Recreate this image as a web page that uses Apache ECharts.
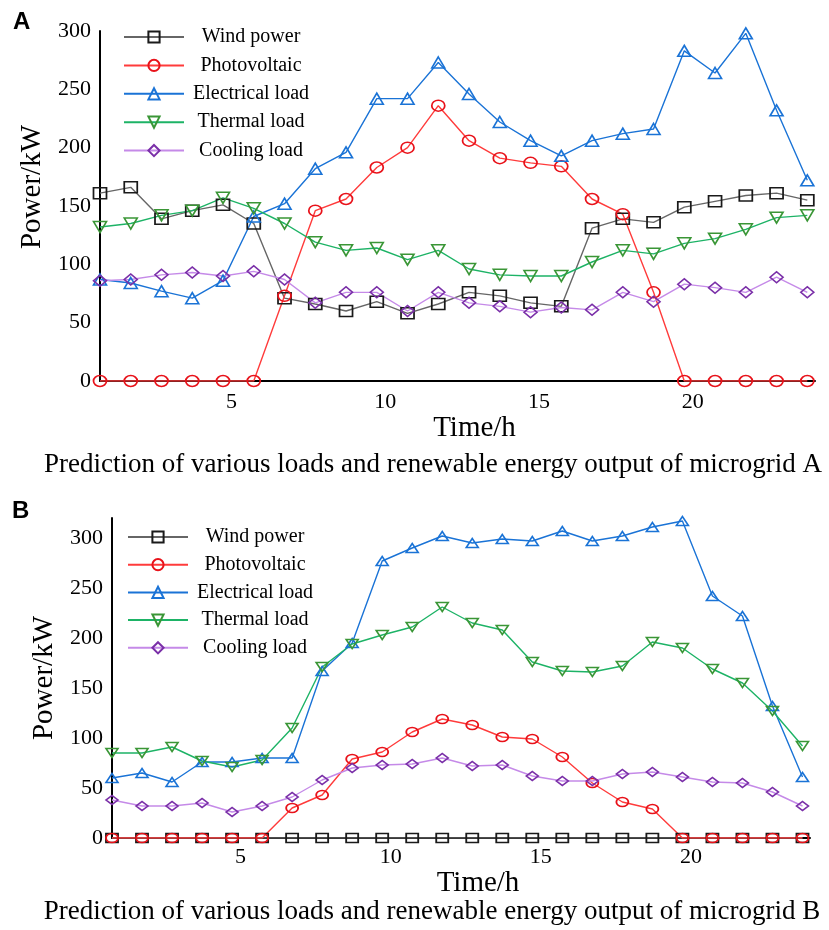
<!DOCTYPE html>
<html>
<head>
<meta charset="utf-8">
<script src="https://cdn.jsdelivr.net/npm/echarts@6/dist/echarts.min.js"></script>
<style>
  html, body { margin: 0; padding: 0; background: #fff; }
  #chart { width: 829px; height: 930px; }
</style>
</head>
<body>
<div id="chart"></div>
<script>
// hours on the x axis
const hours = [1, 2, 3, 4, 5, 6, 7, 8, 9, 10, 11, 12, 13, 14, 15, 16, 17, 18, 19, 20, 21, 22, 23, 24];
const xTickLabels = [5, 10, 15, 20];
const seriesNames = ['Wind power', 'Photovoltaic', 'Electrical load', 'Thermal load', 'Cooling load'];

// microgrid A
const windA = [161, 166, 139, 146, 151, 135, 71, 66, 60, 68, 58, 66, 76, 73, 67, 64, 131, 139, 136, 149, 154, 159, 161, 155];
const pvA = [0, 0, 0, 0, 0, 0, 73, 146, 156, 183, 200, 236, 206, 191, 187, 184, 156, 143, 76, 0, 0, 0, 0, 0];
const elecA = [87, 84, 77, 71, 86, 141, 152, 182, 196, 242, 242, 273, 246, 222, 206, 193, 206, 212, 216, 283, 264, 298, 232, 172];
const thermA = [132, 135, 142, 146, 157, 148, 135, 119, 112, 114, 104, 112, 96, 91, 90, 90, 102, 112, 109, 118, 122, 130, 140, 142];
const coolA = [86, 87, 91, 93, 90, 94, 87, 67, 76, 76, 60, 76, 67, 64, 59, 63, 61, 76, 68, 83, 80, 76, 89, 76];

// microgrid B
const windB = [0, 0, 0, 0, 0, 0, 0, 0, 0, 0, 0, 0, 0, 0, 0, 0, 0, 0, 0, 0, 0, 0, 0, 0];
const pvB = [0, 0, 0, 0, 0, 0, 30, 43, 79, 86, 106, 119, 113, 101, 99, 81, 55, 36, 29, 0, 0, 0, 0, 0];
const elecB = [60, 65, 56, 76, 76, 80, 80, 167, 195, 277, 290, 302, 295, 299, 297, 307, 297, 302, 311, 317, 242, 222, 132, 61];
const thermB = [85, 85, 91, 77, 71, 78, 110, 171, 194, 203, 211, 231, 215, 208, 176, 167, 166, 172, 196, 190, 169, 155, 127, 92];
const coolB = [38, 32, 32, 35, 26, 32, 41, 58, 70, 73, 74, 80, 72, 73, 62, 57, 57, 64, 66, 61, 56, 55, 46, 32];

const styles = [
  { symbol: 'rect', rotate: 0, line: '#666666', mark: '#1a1a1a' },
  { symbol: 'circle', rotate: 0, line: '#ff3b3b', mark: '#e8121a' },
  { symbol: 'triangle', rotate: 0, line: '#1a73d6', mark: '#1a73d6' },
  { symbol: 'triangle', rotate: 180, line: '#1db366', mark: '#3a9636' },
  { symbol: 'diamond', rotate: 0, line: '#c58ae8', mark: '#7a2fa8' }
];

const serif = 'Liberation Serif, Times New Roman, serif';

function pairs(vals) {
  return hours.map((h, i) => [h, vals[i]]);
}

function makeSeries(valsList, idx, size) {
  return valsList.map((vals, k) => ({
    name: seriesNames[k],
    type: 'line',
    xAxisIndex: idx,
    yAxisIndex: idx,
    data: pairs(vals),
    symbol: styles[k].symbol,
    symbolRotate: styles[k].rotate,
    symbolSize: size,
    lineStyle: { color: styles[k].line, width: 1.4 },
    itemStyle: { color: 'rgba(255,255,255,0)', borderColor: styles[k].mark, borderWidth: 1.6 },
    color: styles[k].line,
    animation: false
  }));
}

function xAxisOf(idx, margin, gap) {
  return {
    type: 'value',
    gridIndex: idx,
    min: 1,
    max: 24.25,
    interval: 1,
    name: 'Time/h',
    nameLocation: 'middle',
    nameGap: gap,
    nameTextStyle: { fontFamily: serif, fontSize: 29, color: '#000', padding: [0, 0, 0, 34] },
    axisLine: { show: true, lineStyle: { color: '#000', width: 2 } },
    axisTick: { show: false },
    splitLine: { show: false },
    axisLabel: {
      fontFamily: serif, fontSize: 22, color: '#000', margin: margin,
      padding: [0, 0, 0, 17],
      showMaxLabel: false,
      formatter: v => (xTickLabels.indexOf(v) >= 0 ? String(v) : '')
    }
  };
}

function yAxisOf(idx, max, gap, shift) {
  return {
    type: 'value',
    gridIndex: idx,
    min: 0,
    max: max,
    interval: 50,
    name: 'Power/kW',
    nameLocation: 'middle',
    nameRotate: 90,
    nameGap: gap,
    nameTextStyle: { fontFamily: serif, fontSize: 29, color: '#000', padding: [0, 0, 0, shift] },
    axisLine: { show: true, lineStyle: { color: '#000', width: 2 } },
    axisTick: { show: false },
    splitLine: { show: false },
    axisLabel: { fontFamily: serif, fontSize: 22, color: '#000', margin: 9, showMaxLabel: max === 300 }
  };
}

function legendOf(left, top, gap) {
  return {
    orient: 'vertical',
    left: left,
    top: top,
    itemWidth: 60,
    itemHeight: 14,
    itemGap: gap,
    data: seriesNames,
    formatter: '{c|{name}}',
    textStyle: {
      fontFamily: serif, fontSize: 20, color: '#000',
      rich: { c: { fontFamily: serif, fontSize: 20, color: '#000', width: 124, align: 'center' } }
    }
  };
}

const chart = echarts.init(document.getElementById('chart'));
chart.setOption({
  backgroundColor: '#fff',
  animation: false,
  grid: [
    { left: 100, top: 31, right: 14, height: 350 },
    { left: 112, top: 518, right: 19, height: 320 }
  ],
  xAxis: [xAxisOf(0, 10, 32), xAxisOf(1, 8, 28)],
  yAxis: [yAxisOf(0, 300, 41, 38), yAxisOf(1, 320, 53, 0)],
  legend: [legendOf(118, 22, 8.4), legendOf(122, 522, 7.7)],
  series: makeSeries([windA, pvA, elecA, thermA, coolA], 0, [13, 11])
    .concat(makeSeries([windB, pvB, elecB, thermB, coolB], 1, [12, 9])),
  graphic: [
    { type: 'text', left: 13, top: 10, style: { text: 'A', font: 'bold 24px Liberation Sans, Arial, sans-serif', fill: '#000' } },
    { type: 'text', left: 12, top: 499, style: { text: 'B', font: 'bold 24px Liberation Sans, Arial, sans-serif', fill: '#000' } },
    { type: 'text', x: 433, y: 465, style: { text: 'Prediction of various loads and renewable energy output of microgrid A', font: '27px Liberation Serif, Times New Roman, serif', fill: '#000', align: 'center', verticalAlign: 'middle' } },
    { type: 'text', x: 432, y: 912, style: { text: 'Prediction of various loads and renewable energy output of microgrid B', font: '27px Liberation Serif, Times New Roman, serif', fill: '#000', align: 'center', verticalAlign: 'middle' } }
  ]
});
window.addEventListener('resize', function() {
  chart.resize();
});
</script>
</body>
</html>
